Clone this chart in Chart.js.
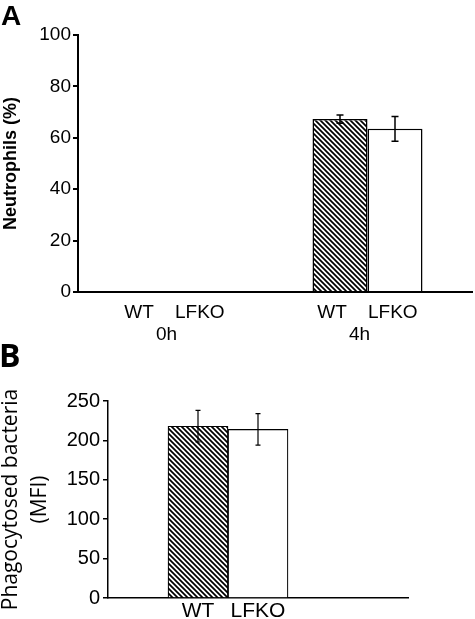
<!DOCTYPE html>
<html>
<head>
<meta charset="utf-8">
<script src="https://cdn.jsdelivr.net/npm/chart.js@4.4.1/dist/chart.umd.min.js"></script>
<style>
  body { margin: 0; background: #fff; }
  #wrap { position: relative; width: 475px; height: 619px; overflow: hidden; }
  .panel { position: absolute; left: 0; }
  .letter { position: absolute; font-weight: bold; line-height: 1; color: #000; }
</style>
</head>
<body>
<div id="wrap">
  <div class="panel" style="top:0"><canvas id="chartA" width="475" height="340"></canvas></div>
  <div class="panel" style="top:340px"><canvas id="chartB" width="475" height="279"></canvas></div>
  <div class="letter" style="left:1px; top:2px; font-family:'Liberation Sans', Arial; font-size:28px;">A</div>
  <div class="letter" style="left:-1px; top:339px; font-family:'Open Sans', sans-serif; font-size:32px;">B</div>
</div>
<script>
// panel A - neutrophils
const timepoints = ['0h', '4h'];
const genotypes = ['WT', 'LFKO'];
const wtNeutro = [null, 67.3];
const wtNeutroErr = [null, 1.6];
const lfkoNeutro = [null, 63.5];
const lfkoNeutroErr = [null, 4.8];
const neutroTicks = [0, 20, 40, 60, 80, 100];

// panel B - phagocytosis
const phagoMean = [218, 214];
const phagoErr = [20, 20];
const phagoTicks = [0, 50, 100, 150, 200, 250];

function makeHatch() {
    const c = document.createElement('canvas');
    c.width = 5; c.height = 5;
    const g = c.getContext('2d');
    g.fillStyle = '#fff';
    g.fillRect(0, 0, 5, 5);
    g.strokeStyle = '#000';
    g.lineWidth = 1.7;
    g.beginPath();
    g.moveTo(-1, -1); g.lineTo(6, 6);
    g.moveTo(-1, 4); g.lineTo(1, 6);
    g.moveTo(4, -1); g.lineTo(6, 1);
    g.stroke();
    return g.createPattern(c, 'repeat');
}
const hatch = makeHatch();

const errorBars = {
    id: 'errorBars',
    afterDatasetsDraw(chart, args, opts) {
        const ctx = chart.ctx;
        const y = chart.scales.y;
        ctx.save();
        ctx.strokeStyle = '#000';
        ctx.lineWidth = opts.width;
        chart.data.datasets.forEach((ds, di) => {
            const meta = chart.getDatasetMeta(di);
            meta.data.forEach((bar, i) => {
                const v = ds.data[i], e = ds.errors[i];
                if (v == null || e == null) return;
                const top = y.getPixelForValue(v + e);
                const bot = y.getPixelForValue(v - e);
                ctx.beginPath();
                ctx.moveTo(bar.x, top); ctx.lineTo(bar.x, bot);
                ctx.moveTo(bar.x - opts.cap / 2, top); ctx.lineTo(bar.x + opts.cap / 2, top);
                ctx.moveTo(bar.x - opts.cap / 2, bot); ctx.lineTo(bar.x + opts.cap / 2, bot);
                ctx.stroke();
            });
        });
        ctx.restore();
    }
};

// the x axis of panel A runs a little past the last group
const axisTail = {
    id: 'axisTail',
    afterDraw(chart, args, opts) {
        if (!opts.length) return;
        const a = chart.chartArea;
        const ctx = chart.ctx;
        ctx.save();
        ctx.strokeStyle = '#000';
        ctx.lineWidth = opts.width;
        ctx.beginPath();
        ctx.moveTo(a.right - 1, a.bottom);
        ctx.lineTo(a.right + opts.length, a.bottom);
        ctx.stroke();
        ctx.restore();
    }
};

Chart.defaults.font.family = "'Liberation Sans', Arial, sans-serif";
Chart.defaults.color = '#000';

new Chart(document.getElementById('chartA').getContext('2d'), {
    type: 'bar',
    data: {
        labels: timepoints,
        datasets: [
            {
                label: genotypes[0],
                data: wtNeutro,
                errors: wtNeutroErr,
                backgroundColor: hatch,
                borderColor: '#000',
                borderWidth: 1.5
            },
            {
                label: genotypes[1],
                data: lfkoNeutro,
                errors: lfkoNeutroErr,
                backgroundColor: '#fff',
                borderColor: '#000',
                borderWidth: 1.5
            }
        ]
    },
    options: {
        responsive: false,
        animation: false,
        events: [],
        layout: { padding: { top: 35, right: 11, left: 0, bottom: 0 } },
        datasets: { bar: { barPercentage: 1, categoryPercentage: 0.57 } },
        plugins: {
            legend: { display: false },
            tooltip: { enabled: false },
            errorBars: { cap: 7, width: 1.5 },
            axisTail: { length: 9, width: 2 }
        },
        scales: {
            x: {
                grid: { display: false, drawTicks: false },
                border: { display: true, color: '#000', width: 2 },
                ticks: {
                    font: { size: 19 },
                    padding: 9,
                    maxRotation: 0,
                    callback: (v, i) => [genotypes.join('    '), timepoints[i] + '   ']
                },
                afterFit: s => { s.height = 48; }
            },
            y: {
                min: neutroTicks[0],
                max: neutroTicks[neutroTicks.length - 1],
                ticks: { stepSize: neutroTicks[1] - neutroTicks[0], font: { size: 19 }, padding: 2 },
                grid: { display: true, drawOnChartArea: false, drawTicks: true, tickLength: 5, color: '#000', lineWidth: 2 },
                border: { display: true, color: '#000', width: 2 },
                title: {
                    display: true,
                    text: 'Neutrophils (%)',
                    font: { size: 18, weight: 'bold' },
                    padding: { top: 0, bottom: 0 }
                },
                afterFit: s => { s.width = 78; }
            }
        }
    },
    plugins: [errorBars, axisTail]
});

// panel B has empty slots either side of the two bars
const phagoLabels = ['', ...genotypes, '', ''];
const phagoData = [null, ...phagoMean, null, null];
const phagoErrs = [null, ...phagoErr, null, null];

new Chart(document.getElementById('chartB').getContext('2d'), {
    type: 'bar',
    data: {
        labels: phagoLabels,
        datasets: [{
            data: phagoData,
            errors: phagoErrs,
            backgroundColor: ['#fff', hatch, '#fff', '#fff', '#fff'],
            borderColor: '#000',
            borderWidth: 1.2
        }]
    },
    options: {
        responsive: false,
        animation: false,
        events: [],
        layout: { padding: { top: 61, right: 67, left: 0, bottom: 0 } },
        datasets: { bar: { barPercentage: 1, categoryPercentage: 1 } },
        plugins: {
            legend: { display: false },
            tooltip: { enabled: false },
            errorBars: { cap: 5, width: 1.2 },
            axisTail: { length: 0 }
        },
        scales: {
            x: {
                grid: { display: false, drawTicks: false },
                border: { display: true, color: '#000', width: 1.5 },
                ticks: { font: { size: 21 }, padding: 1, maxRotation: 0, autoSkip: false },
                afterFit: s => { s.height = 21; }
            },
            y: {
                min: phagoTicks[0],
                max: phagoTicks[phagoTicks.length - 1],
                ticks: { stepSize: phagoTicks[1] - phagoTicks[0], font: { size: 20 }, padding: 3 },
                grid: { display: true, drawOnChartArea: false, drawTicks: true, tickLength: 5, color: '#000', lineWidth: 1.5 },
                border: { display: true, color: '#000', width: 1.5 },
                title: {
                    display: true,
                    text: ['Phagocytosed bacteria', '(MFI)'],
                    font: { family: "'Open Sans', sans-serif", size: 21, lineHeight: 1.38 },
                    padding: { top: -3, bottom: 0 }
                },
                afterFit: s => { s.width = 108; }
            }
        }
    },
    plugins: [errorBars, axisTail]
});
</script>
</body>
</html>
